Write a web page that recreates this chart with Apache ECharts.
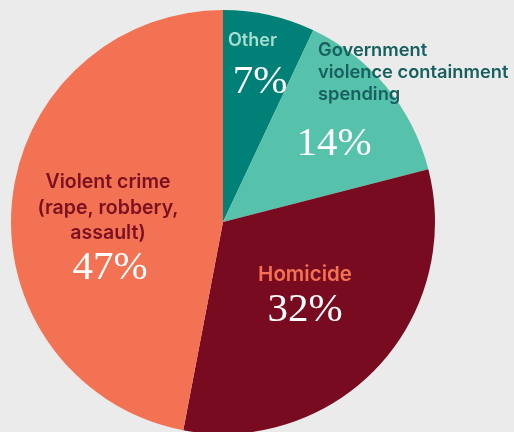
<!DOCTYPE html>
<html><head><meta charset="utf-8">
<script src="https://cdn.jsdelivr.net/npm/echarts@6/dist/echarts.min.js"></script>
<style>html,body{margin:0;padding:0;background:#ebebeb}#c{width:514px;height:432px}</style>
</head><body><div id="c"></div>
<script>
const categories = ['Other', 'Government violence containment spending', 'Homicide', 'Violent crime (rape, robbery, assault)'];
const values = [7, 14, 32, 47];
const colors = ['#008077', '#56c2ab', '#780b20', '#f37254'];

const chart = echarts.init(document.getElementById('c'));
const sans = 'Inter, "Noto Sans", sans-serif';
const serif = '"Liberation Serif", "DejaVu Serif", serif';
const pct = i => values[i] + '%';

function txt(x, y, text, size, color, family, align, weight, lh) {
  return {type: 'text', x: x, y: y, z: 100, zlevel: 1, style: {text: text, fontSize: size, fill: color, fontFamily: family, align: align, verticalAlign: 'middle', fontWeight: weight, lineHeight: lh}};
}

chart.setOption({
  backgroundColor: '#ebebeb',
  animation: false,
  series: [{
    type: 'pie',
    center: [223, 222],
    radius: [0, 212],
    startAngle: 90,
    clockwise: true,
    label: {show: false},
    labelLine: {show: false},
    itemStyle: {borderWidth: 0},
    data: categories.map((c, i) => ({name: c, value: values[i], itemStyle: {color: colors[i]}}))
  }],
  graphic: [
    txt(228, 41, 'Other', 18, '#a8ddd0', sans, 'left', 600),
    txt(260, 82, pct(0), 41, '#ffffff', serif, 'center', 'normal'),
    txt(318, 73, 'Government\nviolence containment\nspending', 18.3, '#17605f', sans, 'left', 600, 22),
    txt(334, 144, pct(1), 41, '#ffffff', serif, 'center', 'normal'),
    txt(305, 275, 'Homicide', 20.5, '#f37254', sans, 'center', 600),
    txt(305, 310, pct(2), 41, '#ffffff', serif, 'center', 'normal'),
    txt(108, 208, 'Violent crime\n(rape, robbery,\nassault)', 19.5, '#7a1020', sans, 'center', 600, 25.5),
    txt(110, 268, pct(3), 41, '#ffffff', serif, 'center', 'normal')
  ]
});
</script></body></html>
